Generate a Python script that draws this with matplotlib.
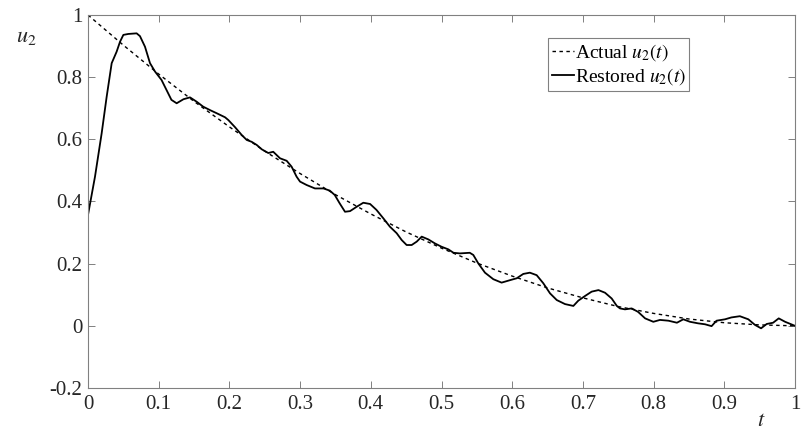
import numpy as np
import matplotlib
matplotlib.use("Agg")
import matplotlib.pyplot as plt

plt.rcParams['font.family'] = ['Liberation Serif', 'DejaVu Serif']
plt.rcParams['mathtext.fontset'] = 'stix'
plt.rcParams['axes.unicode_minus'] = False

# actual u2(t)
t_actual = [0.0, 0.05, 0.1, 0.15, 0.2, 0.25, 0.3, 0.35, 0.4, 0.45, 0.5,
            0.55, 0.6, 0.65, 0.7, 0.75, 0.8, 0.85, 0.9, 0.95, 1.0]
u_actual = [1.0, 0.903, 0.81, 0.722, 0.64, 0.562, 0.49, 0.422, 0.36, 0.302, 0.25,
            0.202, 0.16, 0.122, 0.09, 0.062, 0.04, 0.022, 0.01, 0.003, 0.0]

# restored u2(t)
t_rest = [0.0, 0.0099, 0.0193, 0.0264, 0.0335, 0.0405, 0.0453, 0.050, 0.057, 0.0688,
          0.0735, 0.0806, 0.0877, 0.0948, 0.104, 0.111, 0.118, 0.1254, 0.135, 0.1443,
          0.1537, 0.163, 0.1726, 0.182, 0.1938, 0.1985, 0.208, 0.2174, 0.2245, 0.2315,
          0.2386, 0.2457, 0.255, 0.262, 0.2716, 0.281, 0.288, 0.295, 0.2999, 0.3093,
          0.321, 0.333, 0.342, 0.349, 0.356, 0.3635, 0.3706, 0.380, 0.3894, 0.399,
          0.408, 0.4177, 0.427, 0.4366, 0.4437, 0.4507, 0.4578, 0.465, 0.472, 0.4814,
          0.4908, 0.500, 0.5097, 0.517, 0.526, 0.540, 0.545, 0.552, 0.5615, 0.5733,
          0.585, 0.597, 0.6064, 0.6157, 0.625, 0.6346, 0.644, 0.6535, 0.663, 0.6747,
          0.6865, 0.6935, 0.703, 0.7124, 0.722, 0.7313, 0.7407, 0.748, 0.7525, 0.7595,
          0.769, 0.778, 0.788, 0.7996, 0.809, 0.821, 0.833, 0.842, 0.8515, 0.863,
          0.8727, 0.882, 0.889, 0.901, 0.910, 0.922, 0.934, 0.9434, 0.952, 0.960,
          0.969, 0.977, 0.986, 1.0]
u_rest = [0.357, 0.480, 0.619, 0.737, 0.845, 0.882, 0.914, 0.936, 0.939, 0.941,
          0.932, 0.898, 0.845, 0.818, 0.791, 0.759, 0.727, 0.716, 0.729, 0.735,
          0.721, 0.705, 0.694, 0.684, 0.671, 0.662, 0.639, 0.614, 0.598, 0.592,
          0.582, 0.568, 0.556, 0.560, 0.539, 0.531, 0.512, 0.480, 0.464, 0.453,
          0.442, 0.442, 0.435, 0.421, 0.394, 0.367, 0.369, 0.383, 0.396, 0.392,
          0.373, 0.346, 0.319, 0.298, 0.276, 0.260, 0.260, 0.271, 0.287, 0.278,
          0.265, 0.2545, 0.246, 0.235, 0.233, 0.235, 0.228, 0.201, 0.171, 0.150,
          0.139, 0.147, 0.153, 0.167, 0.171, 0.163, 0.137, 0.1045, 0.083, 0.070,
          0.064, 0.081, 0.096, 0.110, 0.115, 0.1065, 0.088, 0.064, 0.056, 0.053,
          0.056, 0.045, 0.024, 0.013, 0.019, 0.0165, 0.010, 0.021, 0.013, 0.008,
          0.005, -0.001, 0.0165, 0.021, 0.027, 0.031, 0.021, 0.003, -0.008, 0.006,
          0.010, 0.024, 0.013, 0.0]

xticks = [0, 0.1, 0.2, 0.3, 0.4, 0.5, 0.6, 0.7, 0.8, 0.9, 1]
xticklabels = ['0', '0.1', '0.2', '0.3', '0.4', '0.5', '0.6', '0.7', '0.8', '0.9', '1']
yticks = [-0.2, 0, 0.2, 0.4, 0.6, 0.8, 1]
yticklabels = ['-0.2', '0', '0.2', '0.4', '0.6', '0.8', '1']

fig = plt.figure(figsize=(8.02, 4.30), dpi=100)
ax = fig.add_axes([88 / 802, 1 - 388 / 430, 707 / 802, 373 / 430])

ax.plot(t_actual, u_actual, color='black', lw=1.0, dashes=(2.5, 2.5),
        label='Actual $u_2(t)$')
ax.plot(t_rest, u_rest, color='black', lw=1.3, label='Restored $u_2(t)$')

ax.set_xlim(0, 1)
ax.set_ylim(-0.2, 1)
ax.set_xticks(xticks)
ax.set_xticklabels(xticklabels)
ax.set_yticks(yticks)
ax.set_yticklabels(yticklabels)

for s in ax.spines.values():
    s.set_color('#808080')
    s.set_linewidth(0.8)
ax.tick_params(direction='in', top=True, right=True, length=5, width=0.7,
               color='#808080', labelcolor='#262626', labelsize=15)
ax.tick_params(axis='x', pad=5)
ax.tick_params(axis='y', pad=4)

ax.text(0.953, -0.091, '$t$', transform=ax.transAxes, ha='center', va='center',
        fontsize=16, color='#262626')
ax.text(-0.088, 0.941, '$u_2$', transform=ax.transAxes, ha='center', va='center',
        fontsize=16, color='#262626')

leg = ax.legend(loc='upper left', bbox_to_anchor=(0.651, 0.938), borderaxespad=0,
                fancybox=False, fontsize=14, handlelength=1.1, handletextpad=0.05,
                borderpad=0.2, labelspacing=0.15, framealpha=1)
leg.get_frame().set_edgecolor('#808080')
leg.get_frame().set_linewidth(0.8)

fig.savefig('out.png', dpi=100)
